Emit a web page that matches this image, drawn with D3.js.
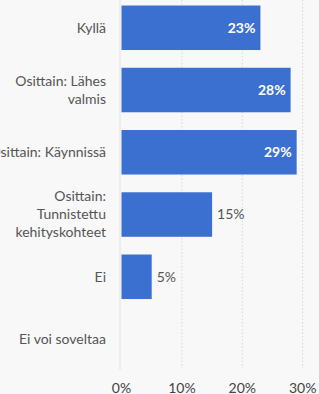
<!DOCTYPE html>
<html>
<head>
    <meta charset="utf-8" />
    <script src="https://d3js.org/d3.v7.min.js"></script>
    <style>
        body { margin: 0; background: #f8f8f8; }
        text { font-family: Lato, "Open Sans", sans-serif; }
    </style>
</head>
<body>
    <script>
        // data
        const categories = [
            ['Kyllä'],
            ['Osittain: Lähes', 'valmis'],
            ['Osittain: Käynnissä'],
            ['Osittain:', 'Tunnistettu', 'kehityskohteet'],
            ['Ei'],
            ['Ei voi soveltaa']
        ];
        const values = [23, 28, 29, 15, 5, 0];
        const ticks = [0, 10, 20, 30];

        const W = 319, H = 394;
        const x0 = 121.5, x1 = 302.7;

        const svg = d3.select('body').append('svg')
            .attr('width', W)
            .attr('height', H);

        svg.append('rect').attr('width', W).attr('height', H).attr('fill', '#f8f8f8');

        const xScale = d3.scaleLinear().domain([0, 30]).range([x0, x1]);
        const yScale = d3.scaleBand()
            .domain(d3.range(categories.length))
            .range([-3.2, 370])
            .paddingInner(0.285)
            .paddingOuter(0.14);

        // grid
        svg.selectAll('.grid')
            .data(ticks.slice(1))
            .enter()
            .append('line')
            .attr('x1', d => xScale(d))
            .attr('x2', d => xScale(d))
            .attr('y1', 0)
            .attr('y2', 368)
            .attr('stroke', '#d6d6d6')
            .attr('stroke-dasharray', '1.5,2');

        svg.append('line')
            .attr('x1', xScale(0) - 1.5).attr('x2', xScale(0) - 1.5)
            .attr('y1', 0).attr('y2', 370)
            .attr('stroke', '#e2e2e2');

        // bars
        svg.selectAll('.bar')
            .data(values)
            .enter()
            .append('rect')
            .attr('x', xScale(0))
            .attr('y', (d, i) => yScale(i))
            .attr('width', d => xScale(d) - xScale(0))
            .attr('height', yScale.bandwidth())
            .attr('fill', '#3b70d0');

        // value labels (inside for long bars, outside for short ones)
        values.forEach((d, i) => {
            if (d <= 0) return;
            const inside = d > 20;
            svg.append('text')
                .attr('x', inside ? xScale(d) - 5 : xScale(d) + 5)
                .attr('y', yScale(i) + yScale.bandwidth() / 2)
                .attr('dy', '0.35em')
                .attr('text-anchor', inside ? 'end' : 'start')
                .attr('fill', inside ? '#ffffff' : '#555')
                .attr('font-weight', inside ? 'bold' : 'normal')
                .style('font-size', '14px')
                .text(d + '%');
        });

        // category labels
        categories.forEach((lines, i) => {
            const cy = yScale(i) + yScale.bandwidth() / 2;
            const lh = 18;
            const t = svg.append('text')
                .attr('text-anchor', 'end')
                .attr('fill', '#555')
                .style('font-size', '14px');
            lines.forEach((ln, j) => {
                t.append('tspan')
                    .attr('x', 106)
                    .attr('y', cy + (j - (lines.length - 1) / 2) * lh)
                    .attr('dy', '0.35em')
                    .text(ln);
            });
        });

        // x axis
        svg.selectAll('.tick')
            .data(ticks)
            .enter()
            .append('text')
            .attr('x', d => xScale(d))
            .attr('y', 388)
            .attr('dy', '0.35em')
            .attr('text-anchor', 'middle')
            .attr('fill', '#444')
            .style('font-size', '14px')
            .text(d => d + '%');
    </script>
</body>
</html>
